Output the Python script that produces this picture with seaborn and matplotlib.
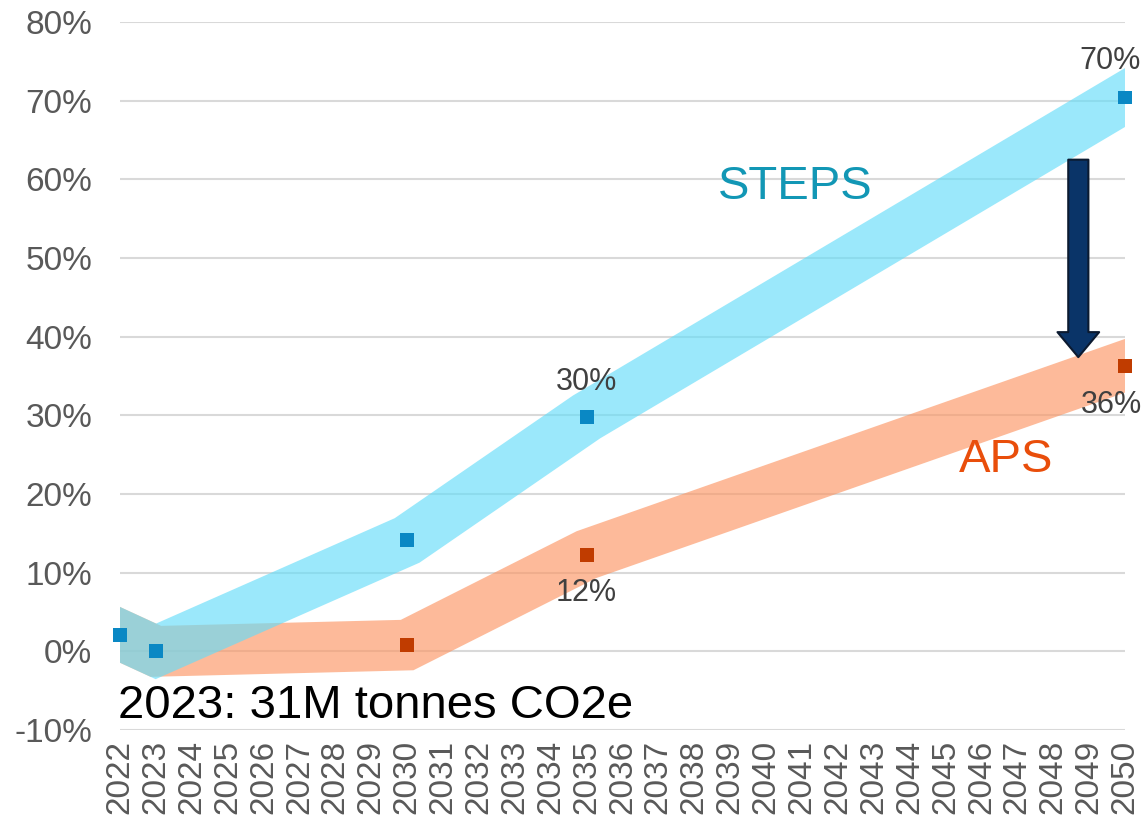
import seaborn as sns
import matplotlib.pyplot as plt

# -------------------- Data --------------------
years = [2022, 2023, 2030, 2035, 2050]
steps_values = [2.1, 0.0, 14.1, 29.8, 70.4]
aps_values = [2.1, 0.0, 0.8, 12.3, 36.3]

steps_point_years = [2022, 2023, 2030, 2035, 2050]
steps_points = [2.1, 0.0, 14.1, 29.8, 70.4]
aps_point_years = [2030, 2035, 2050]
aps_points = [0.8, 12.3, 36.3]

# which points carry a value label, and pixel offset of the label
steps_labels = {2035: (0, 35), 2050: (-15, 37)}
aps_labels = {2035: (0, -38), 2050: (-14, -39)}

year_ticks = list(range(2022, 2051))
y_ticks = list(range(-10, 81, 10))

# -------------------- Style --------------------
sns.set_theme(style="white")
plt.rcParams["font.family"] = ["Liberation Sans", "DejaVu Sans"]

STEPS_BAND = "#65DDF9"
APS_BAND = "#FC9664"
STEPS_MARK = "#0A88C4"
APS_MARK = "#C03C00"
LABEL_GREY = "#404040"

fig, ax = plt.subplots(figsize=(11.47, 8.21), dpi=100)
fig.subplots_adjust(left=0.1046, right=0.9808, top=0.9732, bottom=0.1108)

# thick translucent bands
band_kw = dict(lw=36.5, alpha=0.65, solid_capstyle="projecting",
               solid_joinstyle="miter")
sns.lineplot(x=years, y=aps_values, ax=ax, color=APS_BAND, zorder=2, **band_kw)
sns.lineplot(x=years, y=steps_values, ax=ax, color=STEPS_BAND, zorder=3, **band_kw)

# square markers
sns.scatterplot(x=steps_point_years, y=steps_points, ax=ax, marker="s", s=100,
                color=STEPS_MARK, edgecolor="none", zorder=5, clip_on=False)
sns.scatterplot(x=aps_point_years, y=aps_points, ax=ax, marker="s", s=100,
                color=APS_MARK, edgecolor="none", zorder=5, clip_on=False)

# value labels
for yr, v in zip(steps_point_years, steps_points):
    if yr in steps_labels:
        ax.annotate(f"{v:.0f}%", xy=(yr, v), xytext=steps_labels[yr],
                    textcoords="offset pixels", ha="center", va="center",
                    fontsize=22, color=LABEL_GREY, zorder=6)
for yr, v in zip(aps_point_years, aps_points):
    if yr in aps_labels:
        ax.annotate(f"{v:.0f}%", xy=(yr, v), xytext=aps_labels[yr],
                    textcoords="offset pixels", ha="center", va="center",
                    fontsize=22, color=LABEL_GREY, zorder=6)

# series names and note
ax.text(2040.8, 59.0, "STEPS", fontsize=34, color="#1297B5",
        ha="center", va="center")
ax.text(2046.7, 24.3, "APS", fontsize=34, color="#E94E0B",
        ha="center", va="center")
ax.text(2021.95, -6.9, "2023: 31M tonnes CO2e", fontsize=34, color="black",
        ha="left", va="center", zorder=6)

# down arrow between scenarios
ax.annotate("", xy=(2048.7, 37.4), xytext=(2048.7, 62.5),
            arrowprops=dict(arrowstyle="simple,head_length=1.8,head_width=3.0,tail_width=1.45",
                            mutation_scale=10, fc="#0A3468", ec="#0B1A30", lw=1.5,
                            shrinkA=0, shrinkB=0),
            zorder=7)

# -------------------- Axes --------------------
ax.set_xlim(2022, 2050)
ax.set_ylim(-10, 80)
ax.set_xticks(year_ticks, labels=[str(y) for y in year_ticks], rotation=90)
ax.set_yticks(y_ticks, labels=[f"{v}%" for v in y_ticks])
ax.tick_params(axis="both", length=0, labelsize=24, labelcolor="#595959")
ax.tick_params(axis="y", pad=20)
ax.tick_params(axis="x", pad=7)
ax.grid(axis="y", color="#D9D9D9", lw=1.5)
ax.grid(axis="x", visible=False)
ax.set_axisbelow(True)
for s in ax.spines.values():
    s.set_visible(False)
ax.set_xlabel("")
ax.set_ylabel("")

fig.savefig("out.png", dpi=100)
